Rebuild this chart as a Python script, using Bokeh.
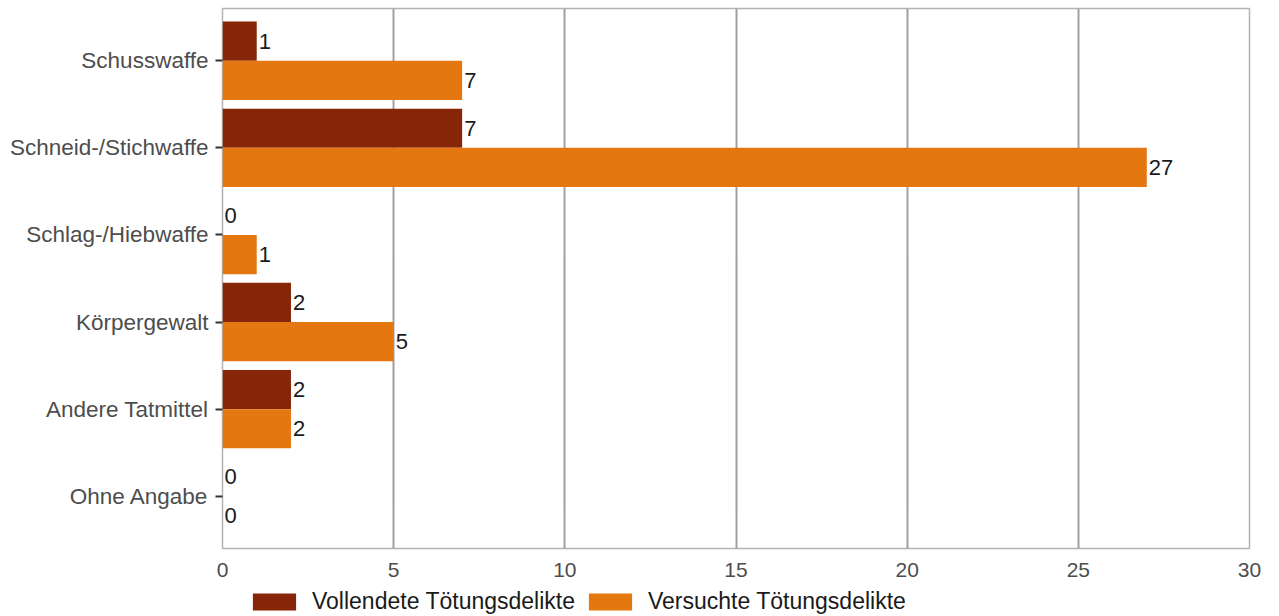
from bokeh.plotting import figure
from bokeh.models import ColumnDataSource, Range1d, FixedTicker, Legend, LegendItem
from bokeh.layouts import column
from bokeh.embed import file_html
from bokeh.resources import INLINE
from bokeh.core.properties import value

categories = ["Schusswaffe", "Schneid-/Stichwaffe", "Schlag-/Hiebwaffe",
              "Körpergewalt", "Andere Tatmittel", "Ohne Angabe"]
vollendet = [1, 7, 0, 2, 2, 0]
versucht = [7, 27, 1, 5, 2, 0]
series_names = ["Vollendete Tötungsdelikte", "Versuchte Tötungsdelikte"]
x_ticks = [0, 5, 10, 15, 20, 25, 30]

DARK = "#862508"
ORANGE = "#E47710"
FONT = "Liberation Sans"

pos = list(range(1, len(categories) + 1))
bw = 0.45
src_v = ColumnDataSource(dict(y=[p - bw / 2 for p in pos], v=vollendet,
                              lbl=[str(v) for v in vollendet]))
src_s = ColumnDataSource(dict(y=[p + bw / 2 for p in pos], v=versucht,
                              lbl=[str(v) for v in versucht]))

p = figure(width=1279, height=582, output_backend="svg", toolbar_location=None,
           x_range=Range1d(0, 30), y_range=Range1d(len(categories) + 0.6, 0.4),
           min_border_left=222, min_border_right=30, min_border_top=8, min_border_bottom=34)

p.hbar(y="y", left=0, right="v", height=bw, source=src_v, fill_color=DARK, line_color=None)
p.hbar(y="y", left=0, right="v", height=bw, source=src_s, fill_color=ORANGE, line_color=None)

for s in (src_v, src_s):
    p.text(x="v", y="y", text="lbl", source=s, x_offset=2, text_align="left",
           text_baseline="middle", text_font=value(FONT), text_font_size="22px",
           text_color="#1a1a1a")

p.outline_line_color = "#b3b3b3"
p.outline_line_width = 1.5
p.background_fill_color = "white"
p.border_fill_color = "white"

p.xgrid.ticker = FixedTicker(ticks=x_ticks)
p.xgrid.grid_line_color = "#a0a0a0"
p.xgrid.grid_line_width = 2
p.ygrid.grid_line_color = None

p.xaxis.ticker = FixedTicker(ticks=x_ticks)
p.xaxis.axis_line_color = None
p.xaxis.major_tick_line_color = None
p.xaxis.minor_tick_line_color = None
p.xaxis.major_label_text_font = FONT
p.xaxis.major_label_text_font_size = "21px"
p.xaxis.major_label_text_color = "#4d4d4d"
p.xaxis.major_label_standoff = 8

p.yaxis.ticker = FixedTicker(ticks=pos)
p.yaxis.major_label_overrides = {p_: c for p_, c in zip(pos, categories)}
p.yaxis.axis_line_color = None
p.yaxis.minor_tick_line_color = None
p.yaxis.major_tick_line_color = "#333333"
p.yaxis.major_tick_line_width = 2
p.yaxis.major_tick_in = 0
p.yaxis.major_tick_out = 7
p.yaxis.major_label_standoff = 7
p.yaxis.major_label_text_font = FONT
p.yaxis.major_label_text_font_size = "22.5px"
p.yaxis.major_label_text_color = "#4d4d4d"

# legend strip below the chart (bars drawn out of view, only the legend shows)
pl = figure(width=1279, height=34, output_backend="svg", toolbar_location=None,
            x_axis_type=None, y_axis_type=None, x_range=Range1d(0, 30), y_range=Range1d(100, 101),
            min_border_left=0, min_border_right=0, min_border_top=0, min_border_bottom=0)
pl.outline_line_color = None
pl.grid.grid_line_color = None
pl.background_fill_color = "white"
pl.border_fill_color = "white"
l1 = pl.hbar(y="y", left=0, right="v", height=bw, source=src_v, fill_color=DARK, line_color=None)
l2 = pl.hbar(y="y", left=0, right="v", height=bw, source=src_s, fill_color=ORANGE, line_color=None)

legend = Legend(items=[LegendItem(label=series_names[0], renderers=[l1]),
                       LegendItem(label=series_names[1], renderers=[l2])],
                location=(25, 1), orientation="horizontal",
                glyph_width=54, glyph_height=21, label_height=21,
                label_standoff=11, spacing=8, padding=0, margin=0,
                label_text_font=FONT, label_text_font_size="23px",
                label_text_color="#1a1a1a", label_text_baseline="middle",
                border_line_color=None, background_fill_alpha=0)
pl.add_layout(legend, "center")

open("out.html", "w").write(file_html(column(p, pl, spacing=0), INLINE))
